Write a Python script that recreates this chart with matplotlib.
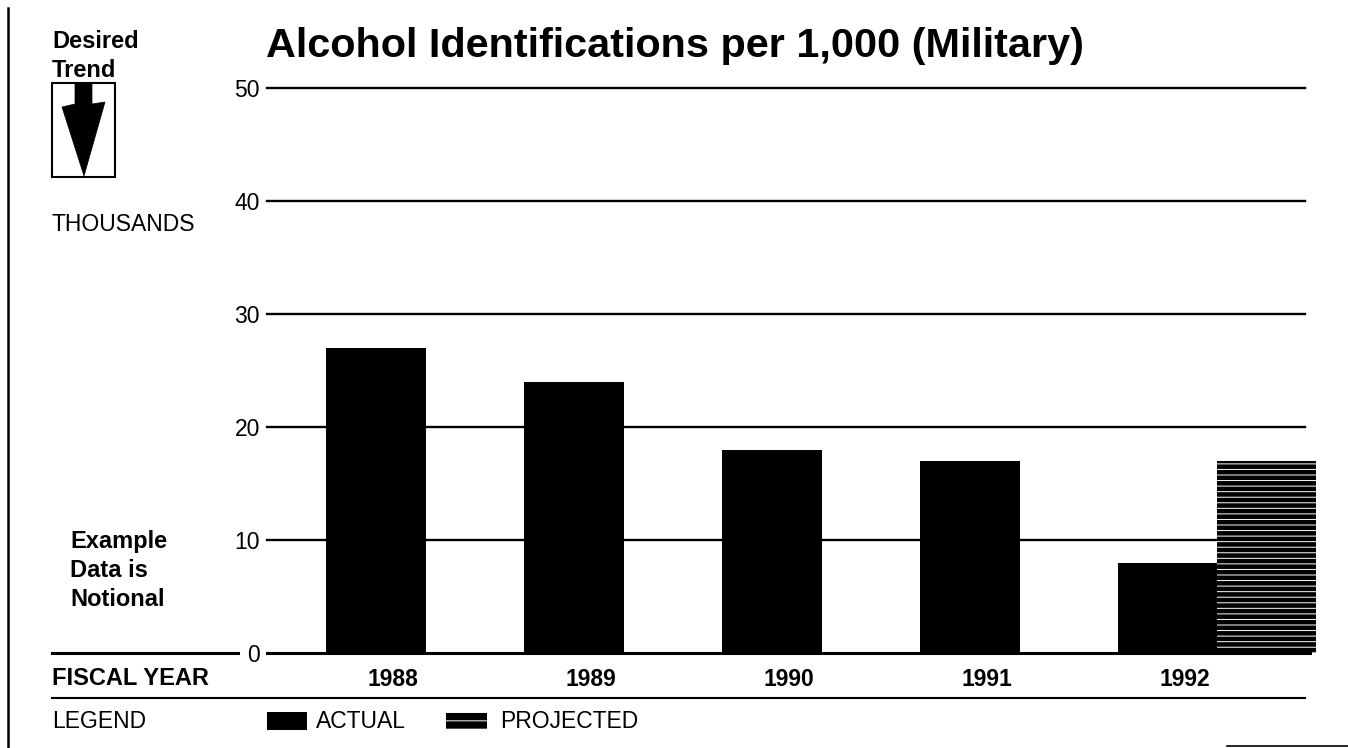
import matplotlib
matplotlib.use("Agg")
import matplotlib.pyplot as plt
from matplotlib.patches import Rectangle, Polygon
from matplotlib.lines import Line2D
from matplotlib.transforms import ScaledTranslation

plt.rcParams['font.family'] = ['Liberation Sans', 'DejaVu Sans']
plt.rcParams['hatch.linewidth'] = 0.7

# ---- data ----
years = ["1988", "1989", "1990", "1991", "1992"]
actual = [27, 24, 18, 17, 8]
projected_year = "1992"
projected = [17]
yticks = [0, 10, 20, 30, 40, 50]
title = "Alcohol Identifications per 1,000 (Military)"

W, H = 1348, 748
fig = plt.figure(figsize=(W / 100, H / 100), dpi=100)
fig.patch.set_facecolor("white")


def fx(x):
    return x / W


def fy(y):
    return (H - y) / H


# axes placement
ax_l, ax_r, ax_t, ax_b = 267, 1305, 88, 653
ax = fig.add_axes([fx(ax_l), fy(ax_b), fx(ax_r - ax_l), (ax_b - ax_t) / H])
ax.set_ylim(0, 50)
ax.set_xlim(-0.548, 4.694)
for s in ax.spines.values():
    s.set_visible(False)

# gridlines
for v in yticks[1:]:
    ax.axhline(v, color="black", lw=1.7, zorder=1, clip_on=False)

pos = list(range(len(years)))
bw = 0.505
ax.bar(pos, actual, width=bw, color="black", zorder=2)
pidx = years.index(projected_year)
ax.bar([pidx + 0.5], projected, width=0.5, color="black", zorder=2, clip_on=False)
ax.bar([pidx + 0.5], projected, width=0.5, facecolor="none", edgecolor="white",
       lw=0, hatch="---", zorder=3, clip_on=False)

ax.set_yticks(yticks)
ax.set_yticklabels([str(v) for v in yticks], fontsize=16.5)
ax.tick_params(axis="y", length=0, pad=5)
ax.set_xticks(pos)
ax.set_xticklabels(years, fontsize=16.5, fontweight="bold")
ax.tick_params(axis="x", length=0, pad=11)
for lab in ax.get_xticklabels():
    lab.set_transform(lab.get_transform() + ScaledTranslation(0.17, 0, fig.dpi_scale_trans))

# zero line (both sides of the "0" label)
fig.add_artist(Line2D([fx(267), fx(1310)], [fy(653), fy(653)], color="black", lw=2.2))
fig.add_artist(Line2D([fx(52), fx(238)], [fy(653), fy(653)], color="black", lw=2.2))
# line under fiscal year row
fig.add_artist(Line2D([fx(52), fx(1305)], [fy(698), fy(698)], color="black", lw=1.5))
# left border line
fig.add_artist(Line2D([fx(8), fx(8)], [fy(8), fy(748)], color="black", lw=1.8))
# small line bottom right
fig.add_artist(Line2D([fx(1227), fx(1348)], [fy(746), fy(746)], color="black", lw=1.2))

# title
fig.text(fx(675), fy(57), title, fontsize=29.8, fontweight="bold", ha="center", va="baseline")

# desired trend
fig.text(fx(52), fy(48), "Desired", fontsize=17, fontweight="bold", va="baseline")
fig.text(fx(52), fy(77), "Trend", fontsize=17, fontweight="bold", va="baseline")
fig.add_artist(Rectangle((fx(52), fy(177)), fx(63), (177 - 83) / H, fill=False,
                         edgecolor="black", lw=1.5))
arrow_pts = [(75, 83), (92, 83), (92, 104), (105, 102), (84, 176), (62, 107), (75, 104)]
fig.add_artist(Polygon([(fx(x), fy(y)) for x, y in arrow_pts], closed=True,
                       facecolor="black", edgecolor="black", lw=0.5))

fig.text(fx(52), fy(231), "THOUSANDS", fontsize=16.5, va="baseline")
for i, line in enumerate(["Example", "Data is", "Notional"]):
    fig.text(fx(70), fy(548 + 29 * i), line, fontsize=17, fontweight="bold", va="baseline")

fig.text(fx(52), fy(685), "FISCAL YEAR", fontsize=17, fontweight="bold", va="baseline")
fig.text(fx(52), fy(728), "LEGEND", fontsize=16.5, va="baseline")

# legend
fig.add_artist(Rectangle((fx(267), fy(730)), fx(40), 18 / H, facecolor="black", edgecolor="none"))
fig.text(fx(316), fy(728), "ACTUAL", fontsize=16.5, va="baseline")
fig.add_artist(Rectangle((fx(446), fy(729)), fx(41), 17 / H, facecolor="black", edgecolor="none"))
fig.add_artist(Rectangle((fx(446), fy(729)), fx(41), 17 / H, facecolor="none", edgecolor="white",
                         lw=0, hatch="--"))
fig.text(fx(500), fy(728), "PROJECTED", fontsize=16.5, va="baseline")

fig.savefig("out.png", dpi=100, facecolor="white")
